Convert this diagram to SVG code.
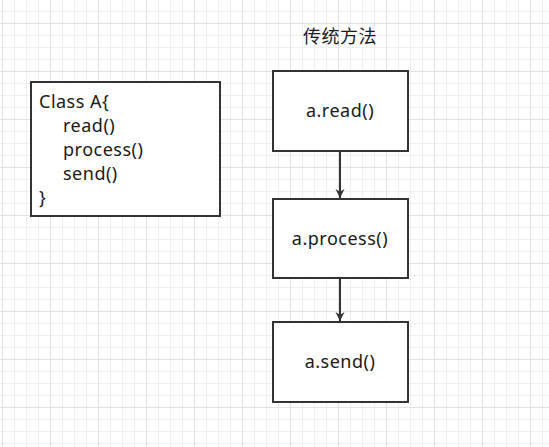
<svg xmlns="http://www.w3.org/2000/svg" width="549" height="447" viewBox="0 0 549 447">
  <defs>
    <pattern id="minor" width="12" height="12" patternUnits="userSpaceOnUse" x="2" y="11">
      <path d="M0.5 0 V12 M0 0.5 H12" fill="none" stroke="#efefef" stroke-width="1"/>
    </pattern>
    <pattern id="major" width="48" height="48" patternUnits="userSpaceOnUse" x="2" y="23">
      <path d="M0.5 0 V48 M0 0.5 H48" fill="none" stroke="#e2e2e2" stroke-width="1"/>
    </pattern>
    <marker id="arrow" viewBox="0 0 10 10" refX="10" refY="5" markerWidth="9" markerHeight="12" markerUnits="userSpaceOnUse" orient="auto">
      <path d="M0 0 L10 5 L0 10 L3 5 Z" fill="#333333"/>
    </marker>
  </defs>
  <style>
    .box { fill: #ffffff; stroke: #333333; stroke-width: 2; }
    .t { font-family: "Noto Sans", "Liberation Sans", "Noto Sans CJK SC", sans-serif; font-size: 18px; fill: #1a1a1a; letter-spacing: 0.5px; }
    .c { text-anchor: middle; }
    .edge { stroke: #333333; stroke-width: 2; fill: none; }
  </style>
  <rect width="549" height="447" fill="#ffffff"/>
  <rect width="549" height="447" fill="url(#minor)"/>
  <rect width="549" height="447" fill="url(#major)"/>

  <g id="classA">
    <rect class="box" x="31" y="82" width="189" height="134"/>
    <text class="t" x="39" y="108">Class A{</text>
    <text class="t" x="63" y="132">read()</text>
    <text class="t" x="63" y="156">process()</text>
    <text class="t" x="63" y="180">send()</text>
    <text class="t" x="39" y="204">}</text>
  </g>

  <g id="title">
    <text class="t c" x="340" y="43" font-family="'Noto Sans CJK SC', sans-serif" fill="#333333" letter-spacing="0">传统方法</text>
  </g>

  <g id="read">
    <rect class="box" x="273" y="71" width="135" height="80"/>
    <text class="t c" x="340" y="117">a.read()</text>
  </g>
  <g id="process">
    <rect class="box" x="273" y="199" width="135" height="79"/>
    <text class="t c" x="340" y="245">a.process()</text>
  </g>
  <g id="send">
    <rect class="box" x="273" y="322" width="135" height="80"/>
    <text class="t c" x="340" y="368">a.send()</text>
  </g>

  <g id="connectors">
    <line class="edge" x1="340" y1="151" x2="340" y2="198" marker-end="url(#arrow)"/>
    <line class="edge" x1="340" y1="278" x2="340" y2="321" marker-end="url(#arrow)"/>
  </g>
</svg>
